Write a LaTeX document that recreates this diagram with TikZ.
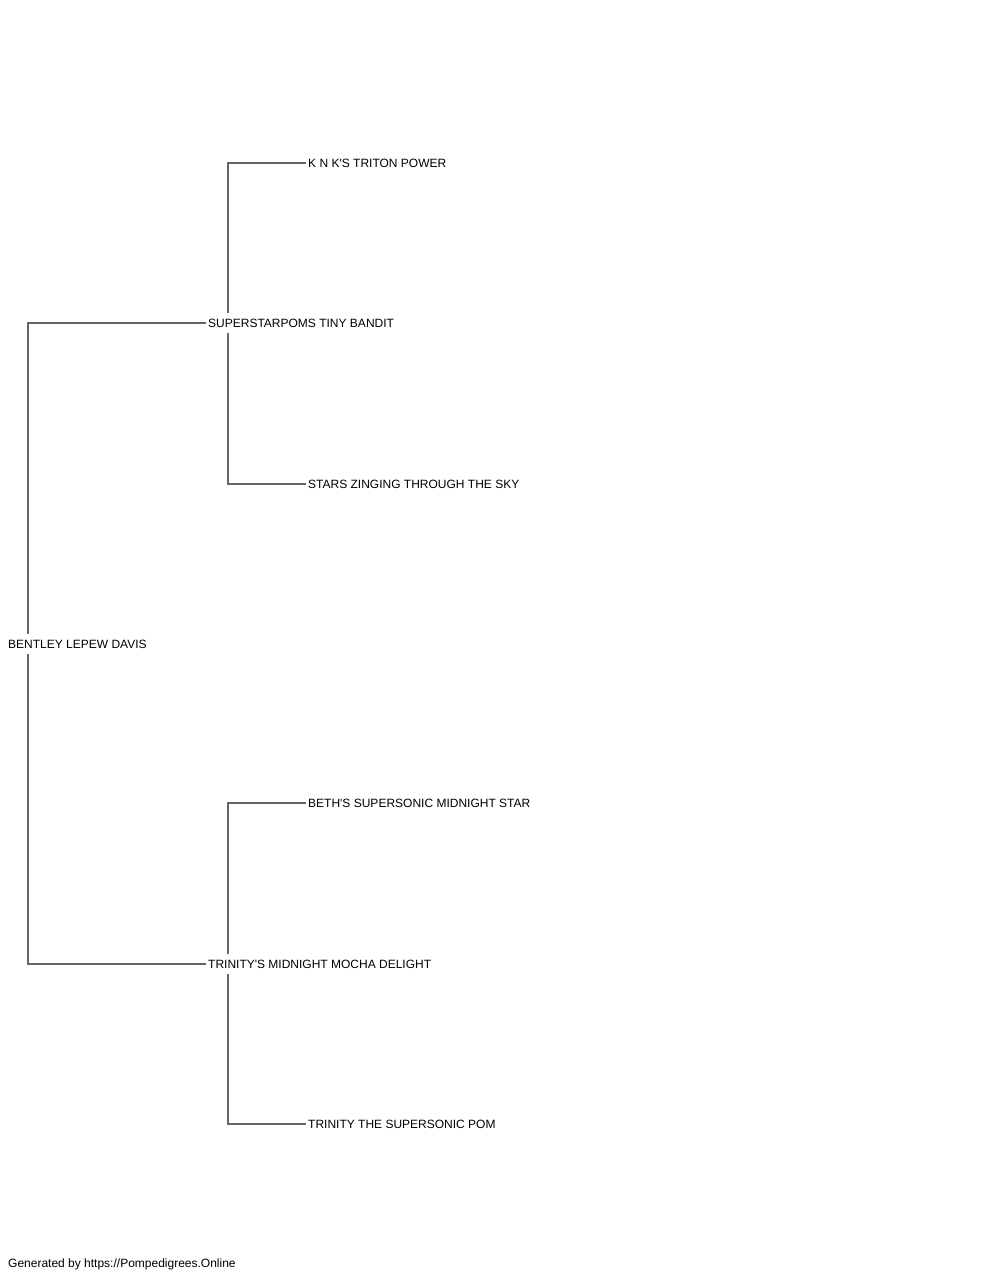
\documentclass[tikz,border=0pt]{standalone}
\usepackage{fontspec}
\setmainfont{Liberation Sans}
\definecolor{pedigree-line}{HTML}{666666}

\begin{document}
\begin{tikzpicture}[x=1pt, y=-1pt, font=\fontsize{12}{14}\selectfont,
  text only/.style={anchor=west, inner xsep=2pt, inner ysep=0pt, minimum height=19pt},
  link/.style={draw=pedigree-line, line width=1.2pt}]
\useasboundingbox (0,0) rectangle (1000,1280);
\node[text only]
  (bentley)
  at (6, 644)
  {BENTLEY LEPEW DAVIS};
\foreach \y/\name/\dog in {
    323/sire/SUPERSTARPOMS TINY BANDIT,
    964/dam/TRINITY\textquotesingle S MIDNIGHT MOCHA DELIGHT} {
  \node[text only]
    (\name)
    at (206, \y)
    {\dog};
}
\draw[link] (sire.west) -| ([xshift=22]bentley.north west);
\draw[link] (dam.west) -| ([xshift=22]bentley.south west);
\foreach \y/\name/\parent/\side in {
    163/sire-sire/sire/north,
    484/sire-dam/sire/south,
    803/dam-sire/dam/north,
    1124/dam-dam/dam/south} {
  \coordinate (\name) at (306, \y);
  \draw[link] (\name) -| ([xshift=22]\parent.\side\space west);
}
\foreach \name/\dog in {
    sire-sire/K N K\textquotesingle S TRITON POWER,
    sire-dam/STARS ZINGING THROUGH THE SKY,
    dam-sire/BETH\textquotesingle S SUPERSONIC MIDNIGHT STAR,
    dam-dam/TRINITY THE SUPERSONIC POM} {
  \node[text only]
    (\name-text)
    at (\name)
    {\dog};
}
\node[text only]
  (credit)
  at (6, 1264)
  {Generated by https://Pompedigrees.Online};
\end{tikzpicture}
\end{document}
